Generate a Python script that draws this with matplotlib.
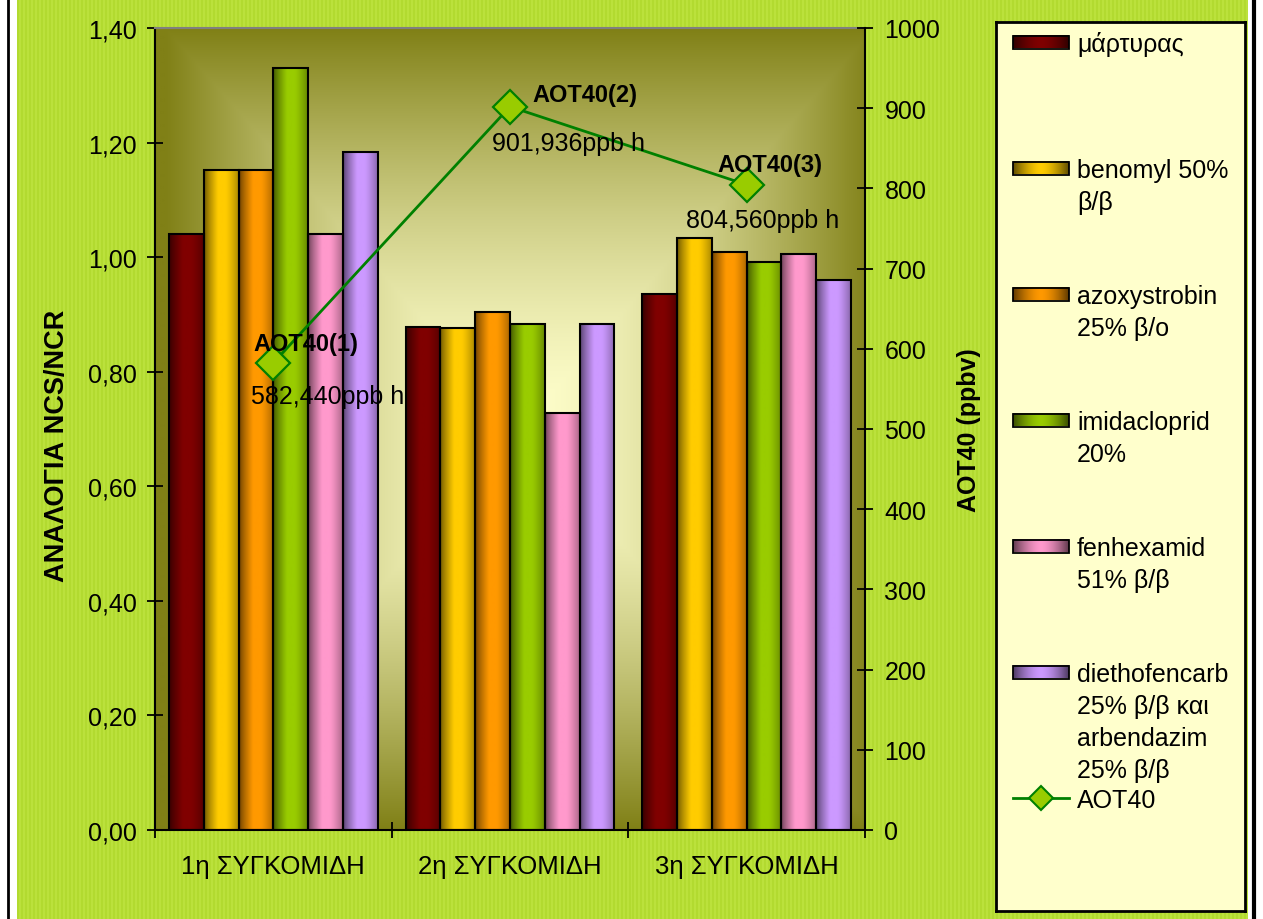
import numpy as np
import matplotlib
matplotlib.use("Agg")
import matplotlib.pyplot as plt
from matplotlib.lines import Line2D
from matplotlib.patches import Rectangle

plt.rcParams['font.family'] = ['Liberation Sans', 'DejaVu Sans']

# ---------------- data ----------------
categories = ['1η ΣΥΓΚΟΜΙΔΗ', '2η ΣΥΓΚΟΜΙΔΗ', '3η ΣΥΓΚΟΜΙΔΗ']
series_names = ['μάρτυρας',
                'benomyl 50%\nβ/β',
                'azoxystrobin\n25% β/ο',
                'imidacloprid\n20%',
                'fenhexamid\n51% β/β',
                'diethofencarb\n25% β/β και\narbendazim\n25% β/β']
martyras = [1.040, 0.878, 0.936]
benomyl = [1.152, 0.876, 1.033]
azoxystrobin = [1.152, 0.905, 1.009]
imidacloprid = [1.330, 0.883, 0.992]
fenhexamid = [1.040, 0.728, 1.005]
diethofencarb = [1.183, 0.883, 0.960]
series_values = [martyras, benomyl, azoxystrobin, imidacloprid, fenhexamid, diethofencarb]
series_colors = ['#800000', '#FFCC00', '#FF9900', '#99CC00', '#FF99CC', '#CC99FF']

aot40 = [582.440, 901.936, 804.560]
aot40_names = ['AOT40(1)', 'AOT40(2)', 'AOT40(3)']
aot40_legend = 'AOT40'

left_ticks = [0.0, 0.2, 0.4, 0.6, 0.8, 1.0, 1.2, 1.4]
right_ticks = [0, 100, 200, 300, 400, 500, 600, 700, 800, 900, 1000]

# ---------------- layout helpers (pixel based) ----------------
W, H = 1263, 920
fig = plt.figure(figsize=(W / 100, H / 100), dpi=100)
fig.patch.set_facecolor('white')


def rect(x0, y0, x1, y1):
    return [x0 / W, 1 - y1 / H, (x1 - x0) / W, (y1 - y0) / H]


# striped lime chart area background
bg = fig.add_axes(rect(17, 0, 1248, 920))
ncol = 616
stripes = np.zeros((1, ncol, 3))
c1 = np.array([178, 218, 48]) / 255
c2 = np.array([187, 225, 60]) / 255
for i in range(ncol):
    stripes[0, i] = c1 if i % 2 == 0 else c2
bg.imshow(stripes, aspect='auto', extent=[0, 1, 0, 1], interpolation='nearest')
bg.set_xlim(0, 1)
bg.set_ylim(0, 1)
bg.axis('off')

# frame lines
fig.add_artist(Line2D([8 / W, 8 / W], [0, 1], color='black', lw=2))
fig.add_artist(Line2D([1253.5 / W, 1253.5 / W], [0, 1], color='black', lw=3))

# ---------------- main axes ----------------
ax = fig.add_axes(rect(155, 29, 865, 831))
x = np.arange(len(categories))
ax.set_xlim(-0.5, len(categories) - 0.5)
ax.set_ylim(0, 1.4)

# plot-area gradient (light centre, olive edges)
ny, nx = 400, 360
u = np.linspace(0, 1, nx)[None, :]
v = np.linspace(0, 1, ny)[:, None]
t = np.maximum(np.abs(u - 0.514) / 0.5, np.abs(v - 0.5) / 0.5)
t = np.clip(t, 0, 1) ** 1.5
c_in = np.array([255, 255, 204]) / 255
c_out = np.array([128, 128, 22]) / 255
grad = c_in[None, None, :] * (1 - t[..., None]) + c_out[None, None, :] * t[..., None]
ax.imshow(grad, extent=[-0.5, len(categories) - 0.5, 0, 1.4], aspect='auto',
          origin='upper', zorder=0, interpolation='bilinear')


def bar_shade(n, symmetric=False):
    s = np.linspace(0, 1, n)
    if symmetric:
        d = np.abs(s - 0.5) / 0.5
        return 1 - 0.62 * d ** 1.6
    out = np.ones(n)
    lo = s < 0.4
    out[lo] = 0.42 + 0.58 * (s[lo] / 0.4) ** 0.8
    hi = s > 0.62
    out[hi] = 1 - 0.32 * ((s[hi] - 0.62) / 0.38) ** 1.3
    return out


nser = len(series_values)
bw = 0.147
for i, (vals, col) in enumerate(zip(series_values, series_colors)):
    offs = (i - (nser - 1) / 2) * bw
    bars = ax.bar(x + offs, vals, width=bw, facecolor='none', edgecolor='black',
                  linewidth=1.5, zorder=3)
    base = np.array(matplotlib.colors.to_rgb(col))
    img = (bar_shade(64)[:, None] * base[None, :])[None, :, :]
    for b in bars:
        bx, by = b.get_x(), b.get_y()
        im = ax.imshow(img, extent=[bx, bx + b.get_width(), by, by + b.get_height()],
                       aspect='auto', zorder=2, interpolation='bilinear')
        im.set_clip_path(b)

ax.set_xlim(-0.5, len(categories) - 0.5)
ax.set_ylim(0, 1.4)

ax.set_yticks(left_ticks)
ax.set_yticklabels([f'{val:.2f}'.replace('.', ',') for val in left_ticks])
ax.tick_params(axis='y', direction='inout', length=12, width=1.3, labelsize=18, pad=7)
ax.set_xticks(x)
ax.set_xticklabels(categories)
ax.tick_params(axis='x', which='major', length=0, labelsize=18.5, pad=17)
ax.set_xticks(np.arange(-0.5, len(categories), 1.0), minor=True)
ax.tick_params(axis='x', which='minor', direction='inout', length=11, width=1.3)

for sp in ['left', 'bottom']:
    ax.spines[sp].set_color('black')
    ax.spines[sp].set_linewidth(1.5)
ax.spines['top'].set_color('#808080')
ax.spines['top'].set_linewidth(1.5)
ax.spines['right'].set_visible(False)

ax.set_ylabel('ΑΝΑΛΟΓΙΑ NCS/NCR', fontsize=19.5, fontweight='bold')
ax.yaxis.set_label_coords(-0.12, 0.48)

# ---------------- secondary axis: AOT40 ----------------
ax2 = ax.twinx()
ax2.set_ylim(0, 1000)
ax2.set_yticks(right_ticks)
ax2.set_yticklabels([str(val) for val in right_ticks])
ax2.tick_params(axis='y', direction='inout', length=12, width=1.3, labelsize=18, pad=8)
for sp in ['left', 'top', 'bottom']:
    ax2.spines[sp].set_visible(False)
ax2.spines['right'].set_color('black')
ax2.spines['right'].set_linewidth(1.5)
ax2.set_ylabel('AOT40 (ppbv)', fontsize=18, fontweight='bold', rotation=90)
ax2.yaxis.set_label_coords(1.13, 0.5)

ax2.plot(x, aot40, color='#008000', lw=2, marker='D', ms=17, mfc='#99CC00',
         mec='#008000', mew=1.6, zorder=5)

name_offsets = [(33, 19), (75, 12), (23, 20)]
value_offsets = [(54, -33), (58, -36), (16, -35)]
for xi, val, nm, no, vo in zip(x, aot40, aot40_names, name_offsets, value_offsets):
    ax2.annotate(nm, (xi, val), xytext=no, textcoords='offset pixels',
                 ha='center', va='center', fontsize=17, fontweight='bold', zorder=6)
    ax2.annotate(f'{val:.3f}'.replace('.', ',') + 'ppb h', (xi, val), xytext=vo,
                 textcoords='offset pixels', ha='center', va='center', fontsize=18, zorder=6)

# ---------------- legend ----------------
lx0, ly0, lx1, ly1 = 996, 23, 1245, 912
lg = fig.add_axes(rect(lx0, ly0, lx1, ly1))
lg.set_xlim(lx0, lx1)
lg.set_ylim(ly1, ly0)
lg.set_facecolor('#FFFFCC')
lg.set_xticks([])
lg.set_yticks([])
for sp in lg.spines.values():
    sp.set_color('black')
    sp.set_linewidth(2)

slot0, slot_step, line_step = 43, 126, 32
cap_half = 9
for k, (name, col) in enumerate(zip(series_names, series_colors)):
    yc = slot0 + k * slot_step
    base = np.array(matplotlib.colors.to_rgb(col))
    img = (bar_shade(64, symmetric=True)[:, None] * base[None, :])[None, :, :]
    lg.imshow(img, extent=[1013, 1069, yc + 6.5, yc - 6.5], aspect='auto', zorder=2,
              interpolation='bilinear')
    lg.add_patch(Rectangle((1013, yc - 6.5), 56, 13, facecolor='none',
                           edgecolor='black', lw=1.3, zorder=3))
    for j, line in enumerate(name.split('\n')):
        lg.text(1077, yc + j * line_step + cap_half, line, fontsize=18,
                ha='left', va='baseline')

yc = slot0 + nser * slot_step
lg.plot([1013, 1069], [yc, yc], color='#008000', lw=2, zorder=3)
lg.plot([1041], [yc], marker='D', ms=12, mfc='#99CC00', mec='#008000', mew=1.5, zorder=4)
lg.text(1077, yc + cap_half, aot40_legend, fontsize=18, ha='left', va='baseline')
lg.set_xlim(lx0, lx1)
lg.set_ylim(ly1, ly0)

fig.savefig('out.png', dpi=100, facecolor=fig.get_facecolor())
